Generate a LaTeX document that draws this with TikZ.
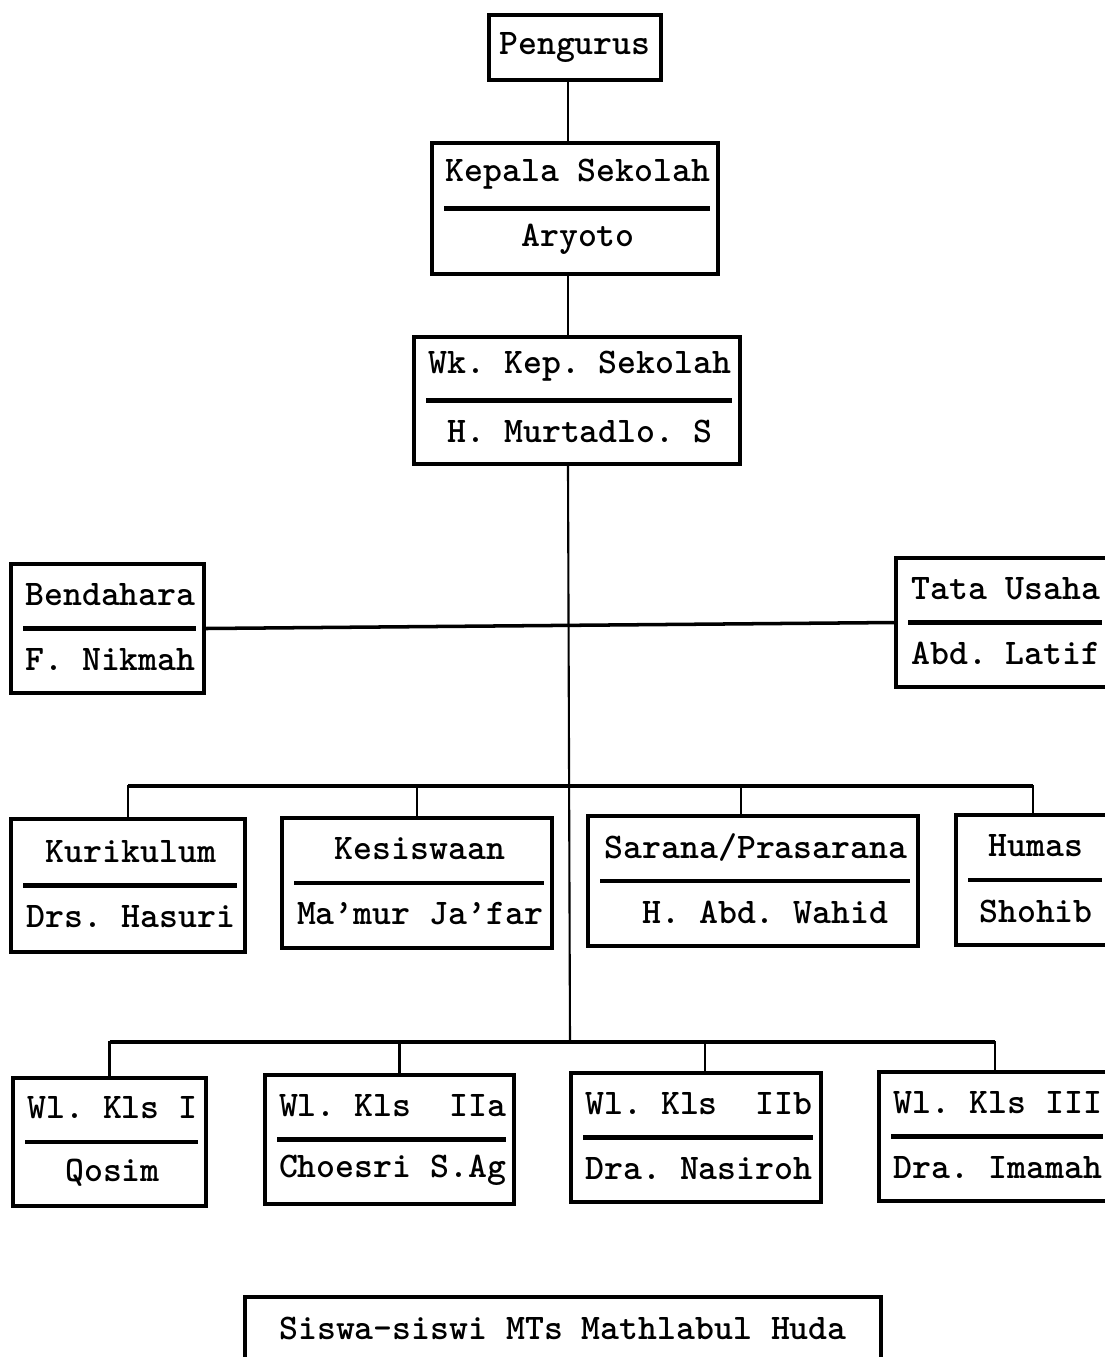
\documentclass[tikz,border=0pt]{standalone}
\usepackage{tikz}

\begin{document}
\begin{tikzpicture}
[x=0.1mm, y=-0.1mm, font=\fontsize{10.25}{12}\selectfont\ttfamily\bfseries\frenchspacing]
\tikzset{
	kotak/.style = {draw, line width=0.9pt, inner sep=0pt},
	jabatan/.style = {anchor=base, xshift=0.3mm, yshift=3.4mm},
	nama/.style = {anchor=base, xshift=0.3mm, yshift=-3.1mm},
	isi/.style 2 args = {kotak,
		path picture={\draw[line width=1.2pt] ([xshift=1.2mm]path picture bounding box.west) -- ([xshift=-0.8mm]path picture bounding box.east);},
		label={[jabatan]center:#1}, label={[nama]center:#2}},
	jalur/.style = {line width=0.6pt},
	palang/.style = {line width=1pt}
}
\useasboundingbox (0,0) rectangle (1105,1357);
\clip (0,0) rectangle (1105,1357);

\node[kotak, minimum width=17.2mm, minimum height=6.5mm] (pengurus) at (575,47.5) {Pengurus};
\node[isi={Kepala Sekolah}{Aryoto}, minimum width=28.6mm, minimum height=13.1mm] (kepsek) at (575,208.5) {};
\node[isi={Wk. Kep. Sekolah}{H. Murtadlo. S}, minimum width=32.6mm, minimum height=12.7mm] (wakasek) at (577,400.5) {};
\node[isi={Bendahara}{F. Nikmah}, minimum width=19.3mm, minimum height=12.9mm] (bendahara) at (107.5,628.5) {};
\node[isi={Tata Usaha}{Abd. Latif}, minimum width=21.4mm, minimum height=12.9mm] (tu) at (1003,622.5) {};
\node[isi={Kurikulum}{Drs. Hasuri}, minimum width=23.4mm, minimum height=13.3mm] (kurikulum) at (128,885.5) {};
\node[isi={Kesiswaan}{Ma’mur Ja’far}, minimum width=27mm, minimum height=13mm] (kesiswaan) at (417,883) {};
\node[isi={Sarana/Prasarana}{\ H. Abd. Wahid}, minimum width=33mm, minimum height=13mm] (sarana) at (753,881) {};
\node[isi={Humas}{Shohib}, minimum width=15.4mm, minimum height=13mm] (humas) at (1033,880) {};
\node[isi={Wl. Kls I}{Qosim}, minimum width=19.3mm, minimum height=12.8mm] (kls1) at (109.5,1142) {};
\node[isi={Wl. Kls~~IIa}{Choesri S.Ag}, minimum width=24.9mm, minimum height=12.9mm] (kls2a) at (389.5,1139.5) {};
\node[isi={Wl. Kls~~IIb}{Dra. Nasiroh}, minimum width=25mm, minimum height=12.9mm] (kls2b) at (696,1137.5) {};
\node[isi={Wl. Kls III}{Dra. Imamah}, minimum width=23.2mm, minimum height=12.9mm] (kls3) at (995,1136.5) {};
\node[kotak, minimum width=63.6mm, minimum height=8.3mm, label={[anchor=base, yshift=1mm]center:Siswa-siswi MTs Mathlabul Huda}] (siswa) at (563,1338.5) {};

\coordinate (poros) at (568,0);
\coordinate (cabang1) at (569,786);
\coordinate (cabang2) at (570,1042);
\draw[jalur] (pengurus.south -| poros) -- (kepsek.north -| poros);
\draw[jalur] (kepsek.south -| poros) -- (wakasek.north -| poros);
\draw[jalur] (wakasek.south -| poros) -- (cabang2);
\draw[palang] (bendahara.east) -- (tu.west);
\draw[jalur] (kurikulum.north) |- (cabang1) -| (humas.north);
\draw[jalur] (kesiswaan.north) |- (cabang1);
\draw[jalur] ([xshift=-1.2mm]sarana.north) |- (cabang1);
\draw[palang] (kurikulum.north |- cabang1) -- (humas.north |- cabang1);
\draw[jalur] (kls1.north) |- (cabang2) -| (kls3.north);
\draw[jalur] ([xshift=1mm]kls2a.north) |- (cabang2);
\draw[jalur] ([xshift=0.9mm]kls2b.north) |- (cabang2);
\draw[palang] (kls1.north |- cabang2) -- (kls3.north |- cabang2);
\end{tikzpicture}
\end{document}
